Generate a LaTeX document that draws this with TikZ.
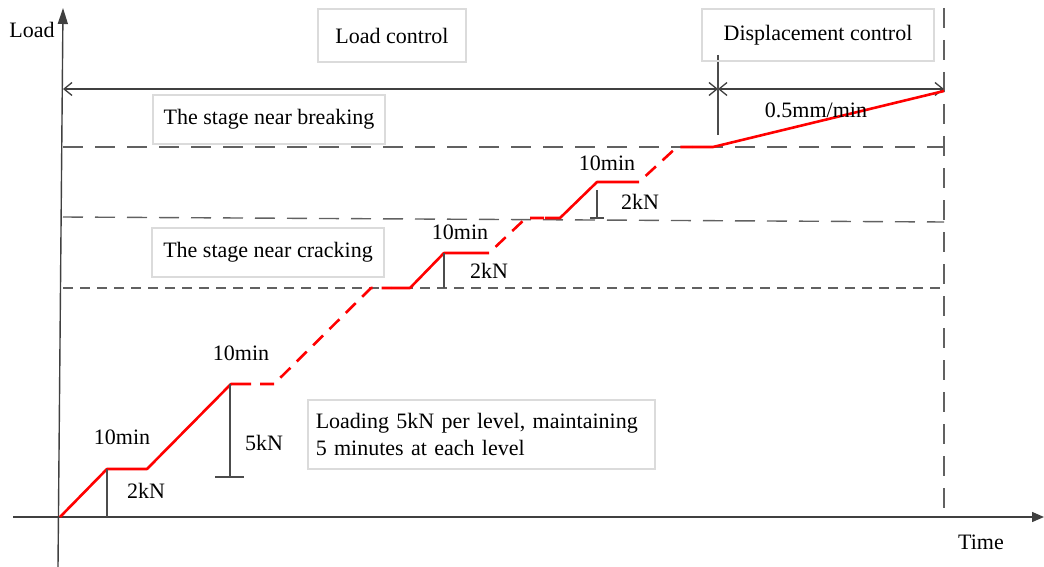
\documentclass[tikz,border=0pt]{standalone}
\usepackage{fontspec}
\setmainfont{Liberation Serif}
\usetikzlibrary{arrows.meta}
\begin{document}
\begin{tikzpicture}[x=1pt,y=-1pt,
  axis/.style={line width=1.4pt, draw=black!75},
  guide/.style={line width=1.4pt, draw=black!62, dash pattern=on 20pt off 12pt},
  guidefine/.style={line width=1.4pt, draw=black!62, dash pattern=on 10pt off 7pt},
  dimline/.style={line width=1.3pt, draw=black!75, {Straight Barb[length=8pt,width=13pt]}-{Straight Barb[length=8pt,width=13pt]}},
  loadline/.style={line width=2.6pt, draw=red, line join=round},
  loaddash/.style={loadline, dash pattern=on 14pt off 9pt, dash phase=14pt},
  marker/.style={line width=1.4pt, draw=black!70},
  txt/.style={font=\fontsize{22}{27}\selectfont, inner sep=0pt},
  labelbox/.style={txt, draw=black!14, line width=1.5pt},
]
\useasboundingbox (0,0) rectangle (1044,567);

% axes
\coordinate (ybot) at (58,567);
\coordinate (ytop) at (63,8);
\coordinate (xleft) at (13,517);
\coordinate (xright) at (1044,517);
\draw[axis, -{Triangle[length=16pt,width=10pt]}] (ybot) -- (ytop);
\draw[axis, -{Triangle[length=12pt,width=10pt]}] (xleft) -- (xright);
\node[txt] (ylabel) at (32,30) {Load};
\node[txt] (xlabel) at (981,542) {Time};

% end of test
\coordinate (endtop) at (944,8);
\coordinate (endbot) at (944,517);
\draw[guide] (endtop) -- (endbot);

% control regime spans
\coordinate (dL) at (63,89);
\coordinate (dM) at (718,89);
\coordinate (dR) at (944,89);
\coordinate (swtop) at (718,55);
\coordinate (swbot) at (718,135);
\draw[dimline] (dL) -- (dM);
\draw[dimline] (dM) -- (dR);
\draw[marker] (swtop) -- (swbot);
\node[labelbox, minimum width=148pt, minimum height=53pt] (loadctl) at (392,35.5) {Load control};
\node[labelbox, minimum width=232pt, minimum height=52pt] (dispctl) at (818,35) {Displacement control};

% stage boundaries
\coordinate (brkL) at (63,147);
\coordinate (brkR) at (944,147);
\coordinate (crkL) at (63,217);
\coordinate (crkR) at (944,222);
\coordinate (lowL) at (63,288);
\coordinate (lowR) at (944,288);
\draw[guide] (brkL) -- (brkR);
\draw[guide] (crkL) -- (crkR);
\draw[guidefine] (lowL) -- (lowR);
\node[labelbox, minimum width=232pt, minimum height=49pt] (brkbox) at (269,119.5) {The stage near breaking};
\node[labelbox, minimum width=232pt, minimum height=49pt] (crkbox) at (268,252.5) {The stage near cracking};
\node[labelbox, minimum width=347pt, minimum height=69pt, align=left, anchor=north west, inner xsep=8pt, inner ysep=0pt, text width=331pt] (note) at (307,399)
  {Loading 5kN per level, maintaining\\5 minutes at each level};

% load history
\coordinate (p0) at (60,517);
\coordinate (p1) at (107,469);
\coordinate (p2) at (147,469);
\coordinate (p3) at (231,384);
\coordinate (p4) at (251,384);
\coordinate (p5) at (274,384);
\coordinate (p6) at (371,288);
\coordinate (p7) at (391,288);
\coordinate (p8) at (410,288);
\coordinate (p9) at (444,253);
\coordinate (p10) at (489,253);
\coordinate (p11) at (526,218);
\coordinate (p12) at (545,218);
\coordinate (p13) at (560,218);
\coordinate (p14) at (597,182);
\coordinate (p15) at (639,182);
\coordinate (p16) at (677,147);
\coordinate (p17) at (692,147);
\coordinate (p18) at (713,147);
\coordinate (p19) at (944,91);
\draw[loadline] (p0) -- (p1) -- (p2) -- (p3) -- (p4);
\draw[loaddash] (p4) -- (p5) -- (p6) -- (p7);
\draw[loadline] (p7) -- (p8) -- (p9) -- (p10);
\draw[loaddash] (p10) -- (p11) -- (p12);
\draw[loadline] (p12) -- (p13) -- (p14) -- (p15);
\draw[loaddash] (p15) -- (p16) -- (p17);
\draw[loadline] (p17) -- (p18) -- (p19);

% step height markers
\coordinate (m1b) at (107,517);
\draw[marker] (p1) -- (m1b);
\coordinate (m2t) at (230,384);
\coordinate (m2b) at (230,477);
\coordinate (m2l) at (215,477);
\coordinate (m2r) at (244,477);
\draw[marker] (m2t) -- (m2b);
\draw[marker] (m2l) -- (m2r);
\coordinate (m3t) at (444,253);
\coordinate (m3b) at (444,288);
\draw[marker] (m3t) -- (m3b);
\coordinate (m4t) at (597,190);
\coordinate (m4b) at (597,218);
\coordinate (m4l) at (590,218);
\coordinate (m4r) at (604,218);
\draw[marker] (m4t) -- (m4b);
\draw[marker] (m4l) -- (m4r);

% labels
\node[txt] (t1) at (122,437) {10min};
\node[txt] (t2) at (241,353) {10min};
\node[txt] (t3) at (460,232) {10min};
\node[txt] (t4) at (607,163) {10min};
\node[txt] (k1) at (146,491) {2kN};
\node[txt] (k2) at (264,443) {5kN};
\node[txt] (k3) at (489,271) {2kN};
\node[txt] (k4) at (640,202) {2kN};
\node[txt] (rate) at (816,110) {0.5mm/min};
\end{tikzpicture}
\end{document}
